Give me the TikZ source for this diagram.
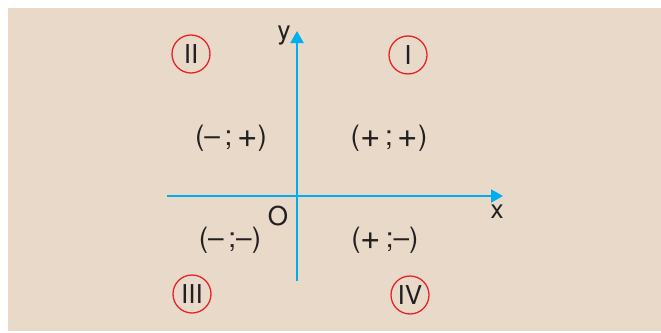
\documentclass[tikz,border=0pt]{standalone}
\usepackage{fontspec}
\usepackage{graphicx}
\setmainfont{TeX Gyre Heros}
\usetikzlibrary{arrows.meta}
\definecolor{bgc}{RGB}{232,217,201}
\definecolor{axc}{RGB}{0,174,239}
\definecolor{redc}{RGB}{232,35,42}
\definecolor{txc}{RGB}{35,31,32}
\newcommand{\bigplus}{\raisebox{-0.07em}{\scalebox{1.25}{+}}}
\begin{document}
\begin{tikzpicture}[x=1pt,y=-1pt,
  axis/.style={draw=axc,line width=2pt,-{Triangle[length=12pt,width=13pt]}},
  roman/.style={circle,draw=redc,line width=1.3pt,minimum size=38pt,inner sep=0pt,font=\fontsize{26}{26}\selectfont,text=txc},
  sign/.style={font=\fontsize{28}{28}\selectfont,text=txc,inner sep=0pt},
  lab/.style={font=\fontsize{26}{26}\selectfont,text=txc,inner sep=0pt}]
\useasboundingbox (0,0) rectangle (661,332);
\fill[white] (0,0) rectangle (661,332);
\fill[bgc] (8,8) rectangle (661,331);
\coordinate (xs) at (167,196);
\coordinate (xe) at (503,196);
\coordinate (ys) at (297,281);
\coordinate (ye) at (297,31);
\draw[axis] (xs) -- (xe);
\draw[axis] (ys) -- (ye);
\node[lab] (ylab) at (284,36) {y};
\node[lab] (xlab) at (497,212) {x};
\node[lab] (olab) at (278,216) {O};
\node[roman] (q2) at (191,54) {II};
\node[roman] (q1) at (408,55) {I};
\node[roman] (q3) at (192,294) {III};
\node[roman] (q4) at (410,295) {IV};
\node[sign] (s2) at (231,138) {(–\,;\,\bigplus)};
\node[sign] (s1) at (389,138) {(\bigplus\,;\,\bigplus)};
\node[sign] (s3) at (230,240) {(–\,;–)};
\node[sign] (s4) at (385,240) {(\bigplus\,;–)};
\end{tikzpicture}
\end{document}
